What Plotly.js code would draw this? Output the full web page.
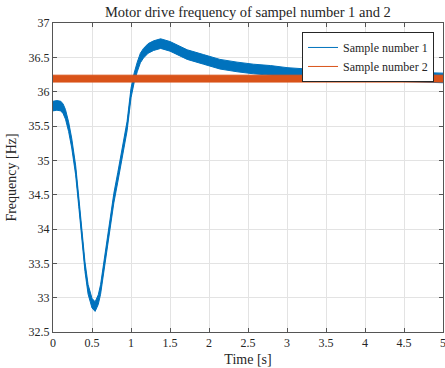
<!DOCTYPE html>
<html>
<head>
<meta charset="utf-8">
<script src="https://cdn.plot.ly/plotly-3.0.1.min.js"></script>
<style>html,body{margin:0;padding:0;background:#fff;}#chart{width:445px;height:368px;}</style>
</head>
<body>
<div id="chart"></div>
<script>
// Sample number 1: time points and centre of the noisy band
var time1 = [0, 0.05, 0.1, 0.13, 0.16, 0.2, 0.24, 0.29, 0.33, 0.37, 0.41, 0.45, 0.5, 0.54,
             0.58, 0.61, 0.67, 0.73, 0.78, 0.83, 0.88, 0.95, 1.0, 1.04, 1.08, 1.12, 1.16,
             1.22, 1.29, 1.38, 1.5, 1.6, 1.72, 1.93, 2.14, 2.36, 2.57, 2.79, 3.0, 3.25,
             3.5, 3.75, 4.0, 4.25, 4.5, 4.75, 5.0];
var freq1 = [35.79, 35.80, 35.79, 35.75, 35.67, 35.49, 35.25, 34.86, 34.40, 33.88, 33.45, 33.12, 32.92, 32.87,
             32.97, 33.12, 33.59, 34.08, 34.45, 34.75, 35.05, 35.50, 35.98, 36.20, 36.36, 36.49, 36.56,
             36.63, 36.67, 36.70, 36.66, 36.60, 36.54, 36.47, 36.40, 36.36, 36.33, 36.31, 36.28, 36.26,
             36.25, 36.24, 36.23, 36.22, 36.21, 36.20, 36.20];
var spread1 = 0.07;   // half thickness of the noise band [Hz]

// Sample number 2
var time2 = [0, 1, 2, 3, 4, 5];
var freq2 = [36.19, 36.19, 36.19, 36.19, 36.19, 36.19];
var spread2 = 0.05;

var xTicks = [0, 0.5, 1, 1.5, 2, 2.5, 3, 3.5, 4, 4.5, 5];
var yTicks = [32.5, 33, 33.5, 34, 34.5, 35, 35.5, 36, 36.5, 37];

var blue = '#0072BD', orange = '#D95319';
var FONT = 'Liberation Serif';

function shift(v, s, sign) {
  return v.map(function (y) { return y + sign * s; });
}

var traces = [
  {x: time1, y: freq1, mode: 'lines', name: 'Sample number 1', line: {color: blue, width: 1}},
  {x: time1, y: shift(freq1, spread1, -1), mode: 'lines', line: {color: blue, width: 1}, showlegend: false, hoverinfo: 'skip'},
  {x: time1, y: shift(freq1, spread1, 1), mode: 'lines', line: {color: blue, width: 1}, fill: 'tonexty', fillcolor: blue, showlegend: false, hoverinfo: 'skip'},
  {x: time2, y: freq2, mode: 'lines', name: 'Sample number 2', line: {color: orange, width: 1}},
  {x: time2, y: shift(freq2, spread2, -1), mode: 'lines', line: {color: orange, width: 1}, showlegend: false, hoverinfo: 'skip'},
  {x: time2, y: shift(freq2, spread2, 1), mode: 'lines', line: {color: orange, width: 1}, fill: 'tonexty', fillcolor: orange, showlegend: false, hoverinfo: 'skip'}
];

var axisCommon = {
  showline: true, linecolor: '#555', linewidth: 1, mirror: 'ticks',
  ticks: 'inside', ticklen: 4, tickcolor: '#555',
  showgrid: true, gridcolor: '#e3e3e3', gridwidth: 1, zeroline: false,
  ticklabeloverflow: 'allow',
  tickfont: {family: FONT, size: 12, color: '#262626'}
};

var layout = {
  width: 445, height: 368,
  margin: {l: 53, r: 2, t: 23, b: 36},
  paper_bgcolor: '#fff', plot_bgcolor: '#fff',
  font: {family: FONT, color: '#262626'},
  title: {text: 'Motor drive frequency of sampel number 1 and 2', font: {family: FONT, size: 14.5, color: '#262626'},
          x: 0.557, xanchor: 'center', y: 0.967, yanchor: 'middle'},
  xaxis: Object.assign({}, axisCommon, {range: [0, 5], tickvals: xTicks, ticktext: xTicks.map(String),
          title: {text: 'Time [s]', font: {family: FONT, size: 14, color: '#262626'}, standoff: 4}}),
  yaxis: Object.assign({}, axisCommon, {range: [32.5, 37], tickvals: yTicks, ticktext: yTicks.map(String),
          title: {text: 'Frequency [Hz]', font: {family: FONT, size: 14, color: '#262626'}, standoff: 8}}),
  legend: {x: 0.977, y: 0.971, xanchor: 'right', yanchor: 'top', bgcolor: '#fff', traceorder: 'normal',
           bordercolor: '#262626', borderwidth: 1, font: {family: FONT, size: 12, color: '#262626'},
           tracegroupgap: 0},
  showlegend: true
};

Plotly.newPlot('chart', traces, layout, {displayModeBar: false, staticPlot: true});
</script>
</body>
</html>
